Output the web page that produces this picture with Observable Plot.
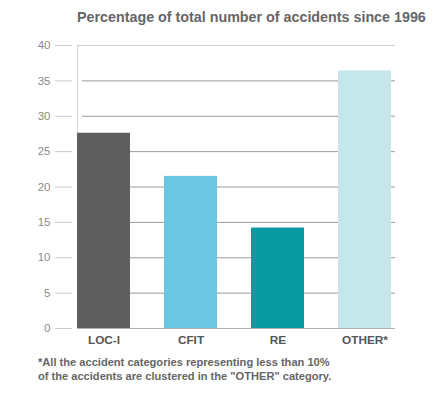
<!DOCTYPE html>
<html>
<head>
<meta charset="utf-8">
<script src="https://cdn.jsdelivr.net/npm/d3@7"></script>
<script src="https://cdn.jsdelivr.net/npm/@observablehq/plot@0.6"></script>
<style>
  html, body { margin: 0; padding: 0; background: #fff; }
  body { width: 439px; height: 399px; font-family: "Liberation Sans", Arial, sans-serif; }
  #title { height: 36px; box-sizing: border-box; padding: 9px 0 0 77px; font-size: 14.3px; font-weight: bold; color: #666; line-height: 17px; white-space: nowrap; }
  #note { margin: 1px 0 0 38px; font-size: 11.1px; font-weight: bold; color: #666; line-height: 14px; white-space: nowrap; }
  #chart svg { display: block; }
</style>
</head>
<body>
<div id="title">Percentage of total number of accidents since 1996</div>
<div id="chart"></div>
<div id="note">*All the accident categories representing less than 10%<br>of the accidents are clustered in the "OTHER" category.</div>
<script>
const categories = ["LOC-I", "CFIT", "RE", "OTHER*"];
const values = [27.6, 21.5, 14.2, 36.4];
const colors = ["#5f5f5f", "#6cc6e1", "#0a9ba1", "#c6e7ea"];
const yTicks = [0, 5, 10, 15, 20, 25, 30, 35, 40];
const innerGrid = [5, 10, 15, 20, 25, 30, 35];

const data = categories.map((c, i) => ({ category: c, value: values[i] }));

const chart = Plot.plot({
  width: 439,
  height: 318,
  marginTop: 9,
  marginBottom: 26,
  marginLeft: 77,
  marginRight: 44,
  style: { fontFamily: "Liberation Sans, Arial, sans-serif", background: "#fff" },
  x: { domain: categories, paddingInner: 0.386, paddingOuter: 0, align: 0, label: null },
  y: { domain: [0, 40], label: null },
  color: { domain: categories, range: colors },
  marks: [
    Plot.frame({ anchor: "left", stroke: "#d8d8d8", strokeOpacity: 1 }),
    Plot.ruleY(innerGrid, { stroke: "#9a9a9a", strokeWidth: 1, insetLeft: 5 }),
    Plot.ruleY([40], { stroke: "#cfcfcf", strokeWidth: 1 }),
    Plot.barY(data, { x: "category", y: "value", fill: "category" }),
    Plot.ruleY([0], { stroke: "#b0b0b0", strokeWidth: 1 }),
    Plot.axisY({ ticks: yTicks, tickSize: 17, tickPadding: 5, dx: -5, stroke: "#cccccc", fill: "#8a8a8a", fontSize: 11.5, tickFormat: d => String(d) }),
    Plot.axisX({ tickSize: 0, tickPadding: 7, fill: "#555", fontSize: 11.8, fontWeight: "bold" })
  ]
});
document.getElementById("chart").appendChild(chart);
</script>
</body>
</html>
